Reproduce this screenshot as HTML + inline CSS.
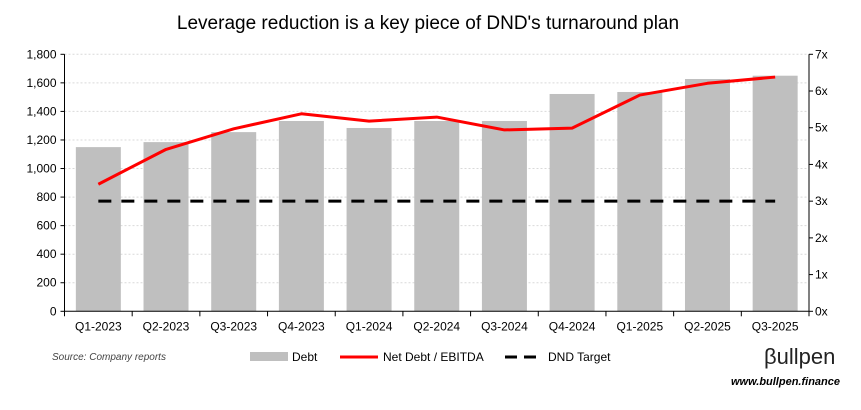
<!DOCTYPE html>
<html><head><meta charset="utf-8"><style>
body{margin:0;background:#fff;width:861px;height:405px;overflow:hidden;font-family:"Liberation Sans",sans-serif}
</style></head><body>
<svg width="861" height="405" xmlns="http://www.w3.org/2000/svg" font-family="Liberation Sans, sans-serif">
<text x="428" y="29" text-anchor="middle" font-size="19" fill="#000">Leverage reduction is a key piece of DND's turnaround plan</text>
<g id="grid"></g><g id="bars"></g><g id="axes"></g><g id="lines"></g>
<text x="52" y="360" font-size="10" font-style="italic" fill="#444">Source: Company reports</text>
<g>
<rect x="250" y="352" width="38" height="9" fill="#bfbfbf"/>
<text x="292" y="361" font-size="12">Debt</text>
<line x1="340" y1="357" x2="378" y2="357" stroke="#ff0000" stroke-width="3"/>
<text x="383" y="361" font-size="12">Net Debt / EBITDA</text>
<line x1="505" y1="357" x2="543" y2="357" stroke="#000" stroke-width="3" stroke-dasharray="12,7"/>
<text x="548" y="361" font-size="12">DND Target</text>
</g>
<text x="764" y="364" font-size="22" fill="#222">βullpen</text>
<text x="840" y="385" text-anchor="end" font-size="11" font-weight="bold" font-style="italic">www.bullpen.finance</text>
</svg>
<script>
const categories=["Q1-2023","Q2-2023","Q3-2023","Q4-2023","Q1-2024","Q2-2024","Q3-2024","Q4-2024","Q1-2025","Q2-2025","Q3-2025"];
const debt=[1150,1185,1255,1333,1284,1333,1333,1522,1536,1627,1650];
const leverage=[3.46,4.41,4.97,5.38,5.18,5.29,4.94,4.99,5.89,6.21,6.38];
const target=[3,3,3,3,3,3,3,3,3,3,3];
const leftTicks=[0,200,400,600,800,1000,1200,1400,1600,1800];
const rightTicks=[0,1,2,3,4,5,6,7];
const NS="http://www.w3.org/2000/svg";
const X0=64.5,X1=809,Y0=311.3,Y1=54.3,LMAX=1800,RMAX=7;
const cw=(X1-X0)/categories.length;
const xc=i=>X0+cw*(i+0.5);
const yl=v=>Y0-(v/LMAX)*(Y0-Y1);
const yr=v=>Y0-(v/RMAX)*(Y0-Y1);
function mk(tag,attrs,parent){const e=document.createElementNS(NS,tag);for(const k in attrs)e.setAttribute(k,attrs[k]);document.getElementById(parent).appendChild(e);return e;}
leftTicks.forEach(t=>{
 if(t>0){const g=mk('line',{x1:X0,x2:X1,y1:yl(t),y2:yl(t),stroke:'#d9d9d9','stroke-dasharray':'2,2','stroke-width':1},'grid');
 
 }
 const l=mk('text',{x:X0-8,y:yl(t)+4,'text-anchor':'end','font-size':12},'axes');l.textContent=t.toLocaleString('en-US');
 
 
});
rightTicks.forEach(t=>{
 const l=mk('text',{x:X1+6,y:yr(t)+4,'font-size':12},'axes');l.textContent=t+'x';
 
 
});
const bw=45;
categories.forEach((c,i)=>{
 const b=mk('rect',{x:xc(i)-bw/2,y:yl(debt[i]),width:bw,height:Y0-yl(debt[i]),fill:'#bfbfbf'},'bars');
 
 
 const l=mk('text',{x:xc(i),y:Y0+19,'text-anchor':'middle','font-size':12},'axes');l.textContent=c;
 
 
});
for(let i=0;i<=categories.length;i++){const tk=mk('line',{x1:X0+cw*i,x2:X0+cw*i,y1:Y0,y2:Y0+5,stroke:'#000'},'axes');
 
 }
const ax=mk('path',{d:`M${X0},${Y1}V${Y0}H${X1}V${Y1}`,fill:'none',stroke:'#000','stroke-width':1},'axes');


leftTicks.forEach(t=>{const tk=mk('line',{x1:X0-4,x2:X0,y1:yl(t),y2:yl(t),stroke:'#000'},'axes');});
rightTicks.forEach(t=>{const tk=mk('line',{x1:X1,x2:X1+4,y1:yr(t),y2:yr(t),stroke:'#000'},'axes');});
const tl=mk('polyline',{points:target.map((v,i)=>xc(i)+','+yr(v)).join(' '),fill:'none',stroke:'#000','stroke-width':3,'stroke-dasharray':'13,10'},'lines');


const ll=mk('polyline',{points:leverage.map((v,i)=>xc(i)+','+yr(v)).join(' '),fill:'none',stroke:'#ff0000','stroke-width':3,'stroke-linejoin':'round'},'lines');


</script>
</body></html>
